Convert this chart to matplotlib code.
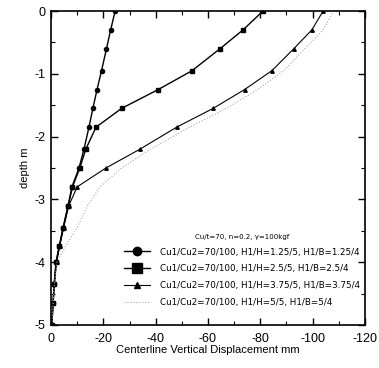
import matplotlib
matplotlib.use("Agg")
import matplotlib.pyplot as plt
from matplotlib.ticker import MultipleLocator

plt.rcParams['font.family'] = ['Liberation Sans', 'DejaVu Sans']
plt.rcParams['axes.unicode_minus'] = False

depth = [0, -0.3, -0.6, -0.95, -1.25, -1.55, -1.85, -2.2, -2.5, -2.8, -3.1, -3.45, -3.75, -4.0, -4.35, -4.65, -5.0]
disp_h125 = [-24.5, -22.8, -21.2, -19.3, -17.6, -16.0, -14.5, -12.6, -10.7, -8.0, -6.5, -4.6, -3.1, -1.9, -1.2, -0.8, -0.3]
disp_h250 = [-81, -73.4, -64.6, -53.9, -41, -27, -17.2, -13.3, -11.0, -8.2, -6.6, -4.7, -3.2, -2.0, -1.2, -0.8, -0.3]
disp_h375 = [-104, -99.7, -92.8, -84.4, -74, -62, -48, -34, -21, -10, -6.8, -4.8, -3.3, -2.1, -1.3, -0.8, -0.3]
disp_h500 = [-108, -104, -97, -89, -79, -67, -53, -38, -27, -18.7, -14, -10, -5.5, -2.3, -1.3, -0.8, -0.3]

labels = [
    "Cu1/Cu2=70/100, H1/H=1.25/5, H1/B=1.25/4",
    "Cu1/Cu2=70/100, H1/H=2.5/5, H1/B=2.5/4",
    "Cu1/Cu2=70/100, H1/H=3.75/5, H1/B=3.75/4",
    "Cu1/Cu2=70/100, H1/H=5/5, H1/B=5/4",
]
legend_title = "Cu/t=70, n=0.2, γ=100kgf"

fig = plt.figure(figsize=(3.79, 3.68), dpi=100)
ax = fig.add_axes([0.1346, 0.117, 0.963 - 0.1346, 0.970 - 0.117])

ax.plot(disp_h125, depth, color='black', lw=1.0, marker='o', ms=3, label=labels[0])
ax.plot(disp_h250, depth, color='black', lw=1.0, marker='s', ms=3.5, label=labels[1])
ax.plot(disp_h375, depth, color='black', lw=0.8, marker='^', ms=2.5, label=labels[2])
ax.plot(disp_h500, depth, color='#aaaaaa', lw=0.8, ls=':', label=labels[3])

ax.set_xlim(0, -120)
ax.set_ylim(-5, 0)
ax.xaxis.set_major_locator(MultipleLocator(20))
ax.xaxis.set_minor_locator(MultipleLocator(10))
ax.yaxis.set_major_locator(MultipleLocator(1))
ax.yaxis.set_minor_locator(MultipleLocator(0.5))
ax.tick_params(which='both', direction='in', top=True, right=True, labelsize=9)
ax.tick_params(axis='x', pad=6)
ax.tick_params(axis='y', pad=4)
ax.tick_params(which='major', length=5, width=1)
ax.tick_params(which='minor', length=3, width=0.8)
for s in ax.spines.values():
    s.set_linewidth(1.2)

ax.set_xlabel("Centerline Vertical Displacement mm", fontsize=8, labelpad=0)
ax.set_ylabel("depth m", fontsize=8, labelpad=3)

leg = ax.legend(loc='lower right', bbox_to_anchor=(1.0, 0.04),
                prop={'family': 'DejaVu Sans', 'size': 6.3}, frameon=False,
                title=legend_title, title_fontproperties={'family': 'DejaVu Sans', 'size': 5},
                handlelength=3.0, handletextpad=1.1,
                labelspacing=0.9, markerscale=2.0, borderaxespad=0.2)

fig.savefig("out.png", dpi=100)
